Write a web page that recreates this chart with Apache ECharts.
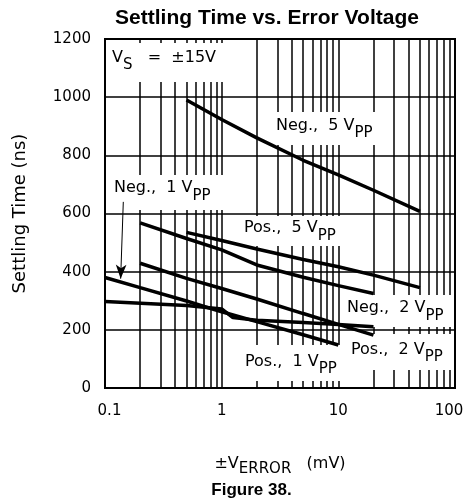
<!DOCTYPE html>
<html><head><meta charset="utf-8">
<script src="https://cdn.jsdelivr.net/npm/echarts@6/dist/echarts.min.js"></script>
<style>html,body{margin:0;padding:0;background:#fff}#c{width:472px;height:499px}</style>
</head><body><div id="c"></div>
<script>
// ---- data ----
const xTickValues = [0.1, 1, 10, 100];
const xMinorGrid = [0.2,0.3,0.4,0.5,0.6,0.7,0.8,0.9,2,3,4,5,6,7,8,9,20,30,40,50,60,70,80,90];
const yTickValues = [0, 200, 400, 600, 800, 1000, 1200];

const neg5X = [0.5, 1, 2, 5, 10, 20, 50];
const neg5Y = [990, 923, 860, 783, 733, 680, 607];
const pos5X = [0.5, 1, 2, 5, 10, 20, 50];
const pos5Y = [535, 507, 478, 442, 417, 388, 345];
const neg2X = [0.2, 0.5, 1, 2, 5, 10, 20];
const neg2Y = [568, 514, 475, 423, 381, 352, 325];
const pos2X = [0.2, 0.5, 1, 2, 5, 10, 20];
const pos2Y = [429, 377, 342, 306, 256, 219, 182];
const neg1X = [0.1, 0.2, 0.5, 1, 2, 5, 10];
const neg1Y = [380, 345, 299, 262, 228, 183, 148];
const pos1X = [0.1, 0.5, 1, 1.25, 2, 5, 10, 20];
const pos1Y = [297, 284, 272, 242, 233, 225, 218, 211];

const FONT = 'DejaVu Sans';
const chart = echarts.init(document.getElementById('c'), null, {renderer: 'canvas'});

function curve(name, xs, ys, extra) {
  return Object.assign({
    name: name, type: 'line', data: xs.map((x, i) => [x, ys[i]]),
    showSymbol: false, symbol: 'none', silent: true, animation: false, z: 5,
    lineStyle: {color: '#000', width: 3.5}
  }, extra || {});
}

const subRich = {
  m: {fontFamily: FONT, fontSize: 16, fill: '#000', verticalAlign: 'middle'},
  s: {fontFamily: FONT, fontSize: 15, fill: '#000', verticalAlign: 'middle', padding: [15, 0, 0, 0]}
};
function label(text, x, y) {
  return {type: 'text', x: x, y: y, z: 20, silent: true,
    style: {text: text, rich: subRich, verticalAlign: 'middle', align: 'left', fill: '#000'}};
}
function box(x, y, w, h) {
  return {type: 'rect', z: 3, silent: true, shape: {x: x, y: y, width: w, height: h}, style: {fill: '#fff'}};
}

const option = {
  backgroundColor: '#fff',
  animation: false,
  title: {
    text: 'Settling Time vs. Error Voltage', left: 267, top: 8, textAlign: 'center', padding: 0,
    textStyle: {fontFamily: 'Liberation Sans', fontWeight: 'bold', fontSize: 21, color: '#000'}
  },
  grid: {left: 105, right: 17, top: 39, bottom: 111, show: true, borderColor: '#000', borderWidth: 2},
  xAxis: {
    type: 'log', logBase: 10, min: xTickValues[0], max: xTickValues[xTickValues.length - 1],
    axisLine: {show: true, lineStyle: {color: '#000', width: 2}},
    axisTick: {show: false},
    splitLine: {show: true, lineStyle: {color: '#000', width: 1.5}},
    axisLabel: {
      show: true, margin: 16, showMinLabel: true, showMaxLabel: true,
      fontFamily: FONT, fontSize: 15, color: '#000',
      formatter: function (v) {
        const s = String(+(+v).toPrecision(3));
        if (s === '0.1') return '{l|0.1}';
        if (s === '100') return '{r|100}';
        return '{n|' + s + '}';
      },
      rich: {
        n: {fontFamily: FONT, fontSize: 15, color: '#000'},
        l: {fontFamily: FONT, fontSize: 15, color: '#000', padding: [0, 0, 0, 9]},
        r: {fontFamily: FONT, fontSize: 15, color: '#000', padding: [0, 12, 0, 0]}
      }
    },
    name: '{m|±V}{s|ERROR}{m|   (mV)}', nameLocation: 'middle', nameGap: 62,
    nameTextStyle: {
      rich: {
        m: {fontFamily: FONT, fontSize: 16, color: '#000', verticalAlign: 'middle'},
        s: {fontFamily: FONT, fontSize: 15, color: '#000', verticalAlign: 'middle', padding: [12, 0, 0, 0]}
      }
    }
  },
  yAxis: {
    type: 'value', min: yTickValues[0], max: yTickValues[yTickValues.length - 1], interval: 200,
    axisLine: {show: true, lineStyle: {color: '#000', width: 2}},
    axisTick: {show: false},
    splitLine: {show: true, lineStyle: {color: '#000', width: 1.5}},
    axisLabel: {margin: 14, fontFamily: FONT, fontSize: 15, color: '#000',
      formatter: function (v) { return String(v); }},
    name: 'Settling Time (ns)', nameLocation: 'middle', nameGap: 76,
    nameTextStyle: {fontFamily: FONT, fontSize: 18, color: '#000'}
  },
  graphic: [
    box(107, 43, 119, 39),
    box(271, 112, 114, 33),
    box(107, 175, 119, 35),
    box(241, 216, 105, 30),
    box(345, 295, 108, 32),
    box(349, 334, 104, 36),
    box(242, 345, 103, 36),
    label('{m|V}{s|S}{m|   =  ±15V}', 112, 57.5),
    label('{m|Neg.,  5 V}{s|PP}', 276, 125.5),
    label('{m|Neg.,  1 V}{s|PP}', 114, 188.3),
    label('{m|Pos.,  5 V}{s|PP}', 244, 228.3),
    label('{m|Neg.,  2 V}{s|PP}', 347, 308.3),
    label('{m|Pos.,  2 V}{s|PP}', 351, 350),
    label('{m|Pos.,  1 V}{s|PP}', 245, 361.7),
    {type: 'text', x: 251.5, y: 490, z: 20, silent: true,
      style: {text: 'Figure 38.', fontFamily: 'Liberation Sans', fontWeight: 'bold', fontSize: 17,
        fill: '#000', align: 'center', verticalAlign: 'middle'}}
  ],
  series: [
    {
      name: 'minor grid', type: 'line', data: [], z: 1, silent: true, animation: false,
      markLine: {
        z: 1, silent: true, symbol: 'none', animation: false,
        label: {show: false},
        lineStyle: {color: '#000', width: 1.5, type: 'solid'},
        emphasis: {disabled: true},
        data: xMinorGrid.map(v => ({xAxis: v}))
      }
    },
    curve('Neg., 5 VPP', neg5X, neg5Y),
    curve('Pos., 5 VPP', pos5X, pos5Y),
    curve('Neg., 2 VPP', neg2X, neg2Y),
    curve('Pos., 2 VPP', pos2X, pos2Y),
    curve('Neg., 1 VPP', neg1X, neg1Y, {
      markLine: {
        z: 6, silent: true, animation: false, symbol: ['none', 'arrow'], symbolSize: [8, 14],
        label: {show: false}, emphasis: {disabled: true},
        lineStyle: {color: '#000', width: 1, type: 'solid'},
        data: [[{coord: [0.1435, 640]}, {coord: [0.1362, 376]}]]
      }
    }),
    curve('Pos., 1 VPP', pos1X, pos1Y)
  ]
};
chart.setOption(option);
</script></body></html>
